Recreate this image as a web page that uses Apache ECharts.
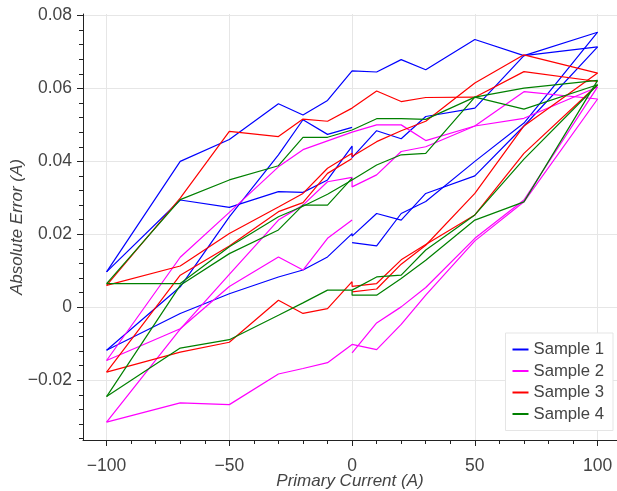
<!DOCTYPE html>
<html>
<head>
<meta charset="utf-8">
<script src="https://cdn.jsdelivr.net/npm/echarts@6/dist/echarts.min.js"></script>
<style>
html,body{margin:0;padding:0;background:#fff;}
#chart{width:617px;height:491px;}
</style>
</head>
<body>
<div id="chart"></div>
<script>
// ---- x positions of the measurement points ----
const xFull  = [-100, -70, -50, -30, -20, -10, 0, 10, 20, 30, 50, 70, 100];
const xJump  = [-100, -70, -50, -30, -20, -10, 0, 0, 10, 20, 30, 50, 70, 100];
const xLeft  = [-100, -70, -50, -30, -20, -10, 0];
const xRight = [0, 10, 20, 30, 50, 70, 100];

// ---- tick values ----
const xMajorTicks = [-100, -50, 0, 50, 100];
const xMinorTicks = [-100, -90, -80, -70, -60, -50, -40, -30, -20, -10, 0, 10, 20, 30, 40, 50, 60, 70, 80, 90, 100];
const yMajorTicks = [-0.02, 0, 0.02, 0.04, 0.06, 0.08];
const yMinorTicks = [-0.036, -0.032, -0.028, -0.024, -0.02, -0.016, -0.012, -0.008, -0.004, 0, 0.004, 0.008, 0.012, 0.016, 0.02, 0.024, 0.028, 0.032, 0.036, 0.04, 0.044, 0.048, 0.052, 0.056, 0.06, 0.064, 0.068, 0.072, 0.076, 0.08];

// ---- Sample 1 ----
const s1_runA = [0.0097, 0.0400, 0.0460, 0.0558, 0.0527, 0.0567, 0.0648, 0.0645, 0.0679, 0.0651, 0.0734, 0.0690, 0.0714];
const s1_runB = [0.0097, 0.0294, 0.0274, 0.0317, 0.0315, 0.0349, 0.0442, 0.0410, 0.0484, 0.0462, 0.0523, 0.0546, 0.0690, 0.0754];
const s1_runC = [-0.0118, 0.0056, 0.0248, 0.0418, 0.0514, 0.0474, 0.0493];
const s1_runD = [-0.0118, -0.0017, 0.0037, 0.0083, 0.0102, 0.0138, 0.0202, 0.0195, 0.0257, 0.0239, 0.0312, 0.0360, 0.0497, 0.0714];
const s1_runE = [0.0177, 0.0168, 0.0257, 0.0290, 0.0400, 0.0505, 0.0754];

// ---- Sample 2 ----
const s2_runA = [-0.0146, 0.0137, 0.0260, 0.0385, 0.0432, 0.0456, 0.0480, 0.0500, 0.0500, 0.0457, 0.0497, 0.0591, 0.0571];
const s2_runB = [-0.0315, -0.0060, 0.0090, 0.0239, 0.0280, 0.0344, 0.0356, 0.0330, 0.0363, 0.0427, 0.0440, 0.0497, 0.0518, 0.0604];
const s2_runC = [-0.0146, -0.0059, 0.0057, 0.0138, 0.0102, 0.0189, 0.0239];
const s2_runD = [-0.0315, -0.0262, -0.0267, -0.0183, -0.0168, -0.0152, -0.0102, -0.0116, -0.0047, 0.0033, 0.0182, 0.0289, 0.0571];
const s2_runE = [-0.0125, -0.0043, 0.0001, 0.0054, 0.0189, 0.0294, 0.0604];

// ---- Sample 3 ----
const s3_runA = [0.0060, 0.0299, 0.0482, 0.0468, 0.0516, 0.0510, 0.0546, 0.0541, 0.0593, 0.0564, 0.0575, 0.0576, 0.0646, 0.0619];
const s3_runB = [0.0060, 0.0113, 0.0202, 0.0275, 0.0312, 0.0381, 0.0422, 0.0413, 0.0454, 0.0484, 0.0510, 0.0615, 0.0692, 0.0642];
const s3_runC = [-0.0178, 0.0088, 0.0168, 0.0262, 0.0287, 0.0367, 0.0408];
const s3_runD = [-0.0178, -0.0123, -0.0096, 0.0019, -0.0017, -0.0004, 0.0070, 0.0057, 0.0065, 0.0130, 0.0172, 0.0253, 0.0422, 0.0610];
const s3_runE = [0.0042, 0.0050, 0.0118, 0.0170, 0.0312, 0.0497, 0.0642];

// ---- Sample 4 ----
const s4_runA = [0.0065, 0.0295, 0.0349, 0.0388, 0.0466, 0.0466, 0.0486, 0.0517, 0.0517, 0.0515, 0.0576, 0.0601, 0.0622];
const s4_runB = [0.0065, 0.0065, 0.0166, 0.0248, 0.0277, 0.0310, 0.0349, 0.0390, 0.0418, 0.0422, 0.0576, 0.0543, 0.0610];
const s4_runC = [-0.0245, 0.0060, 0.0147, 0.0212, 0.0280, 0.0280, 0.0354];
const s4_runD = [-0.0245, -0.0112, -0.0089, -0.0022, 0.0012, 0.0047, 0.0047, 0.0033, 0.0033, 0.0079, 0.0129, 0.0239, 0.0289, 0.0622];
const s4_runE = [0.0047, 0.0083, 0.0088, 0.0157, 0.0253, 0.0406, 0.0610];

const sampleNames = ['Sample 1', 'Sample 2', 'Sample 3', 'Sample 4'];
const sampleColors = ['#0000ff', '#ff00ff', '#ff0000', '#008000'];
const sampleRuns = [
  [[xFull, s1_runA], [xJump, s1_runB], [xLeft, s1_runC], [xJump, s1_runD], [xRight, s1_runE]],
  [[xFull, s2_runA], [xJump, s2_runB], [xLeft, s2_runC], [xFull, s2_runD], [xRight, s2_runE]],
  [[xJump, s3_runA], [xJump, s3_runB], [xLeft, s3_runC], [xJump, s3_runD], [xRight, s3_runE]],
  [[xFull, s4_runA], [xFull, s4_runB], [xLeft, s4_runC], [xJump, s4_runD], [xRight, s4_runE]]
];

const FONT = '"Liberation Sans", Arial, Helvetica, sans-serif';
const series = [];
sampleRuns.forEach((runs, si) => {
  runs.forEach(([xs, ys]) => {
    series.push({
      type: 'line',
      name: sampleNames[si],
      data: xs.map((x, i) => [x, ys[i]]),
      symbol: 'none',
      showSymbol: false,
      lineStyle: { color: sampleColors[si], width: 1.2 },
      itemStyle: { color: sampleColors[si] },
      silent: true,
      animation: false
    });
  });
});

const minus = s => s.replace('-', '\u2212');
const AXIS_COLOR = '#222';
const LABEL_COLOR = '#444';

const chart = echarts.init(document.getElementById('chart'), null, { renderer: 'canvas' });
chart.setOption({
  backgroundColor: '#ffffff',
  animation: false,
  grid: { left: 83, top: 14, right: 0, bottom: 51, containLabel: false, outerBoundsMode: 'none' },
  legend: {
    data: sampleNames,
    orient: 'vertical',
    right: 4,
    top: 333,
    backgroundColor: '#ffffff',
    borderColor: '#e5e5e5',
    borderWidth: 1,
    padding: [7, 9, 7, 7],
    icon: 'rect',
    itemWidth: 16,
    itemHeight: 2,
    itemGap: 2.5,
    textStyle: { fontFamily: FONT, fontSize: 16.7, color: LABEL_COLOR, lineHeight: 19 },
    selectedMode: false
  },
  xAxis: [
    {
      type: 'value', min: -109.6, max: 107.9, position: 'bottom',
      name: 'Primary Current (A)', nameLocation: 'middle', nameGap: 33, nameMoveOverlap: false,
      nameTextStyle: { fontFamily: FONT, fontSize: 17, fontStyle: 'italic', color: LABEL_COLOR },
      axisLine: { show: true, onZero: false, lineStyle: { color: AXIS_COLOR, width: 1 } },
      axisTick: { show: true, customValues: xMajorTicks, length: 6, lineStyle: { color: AXIS_COLOR } },
      axisLabel: { customValues: xMajorTicks, margin: 17, fontFamily: FONT, fontSize: 17.5, color: LABEL_COLOR,
                   formatter: v => minus(String(v)) },
      splitLine: { show: true, lineStyle: { color: '#e6e6e6', width: 1 } }
    },
    {
      type: 'value', min: -109.6, max: 107.9, position: 'bottom',
      axisLine: { show: false, onZero: false },
      axisTick: { show: true, customValues: xMinorTicks, length: 4, lineStyle: { color: AXIS_COLOR } },
      axisLabel: { show: false },
      splitLine: { show: false }
    }
  ],
  yAxis: [
    {
      type: 'value', min: -0.0364, max: 0.0804, position: 'left',
      name: 'Absolute Error (A)', nameLocation: 'middle', nameGap: 57, nameMoveOverlap: false,
      nameTextStyle: { fontFamily: FONT, fontSize: 17, fontStyle: 'italic', color: LABEL_COLOR },
      axisLine: { show: true, onZero: false, lineStyle: { color: AXIS_COLOR, width: 1 } },
      axisTick: { show: true, customValues: yMajorTicks, length: 6, lineStyle: { color: AXIS_COLOR } },
      axisLabel: { customValues: yMajorTicks, margin: 11, fontFamily: FONT, fontSize: 17.5, color: LABEL_COLOR,
                   formatter: v => (Math.abs(v) < 1e-9 ? '0' : minus(v.toFixed(2))) },
      splitLine: { show: true, lineStyle: { color: '#e6e6e6', width: 1 } }
    },
    {
      type: 'value', min: -0.0364, max: 0.0804, position: 'left',
      axisLine: { show: false, onZero: false },
      axisTick: { show: true, customValues: yMinorTicks, length: 4, lineStyle: { color: AXIS_COLOR } },
      axisLabel: { show: false },
      splitLine: { show: false }
    }
  ],
  series: series
});
</script>
</body>
</html>
